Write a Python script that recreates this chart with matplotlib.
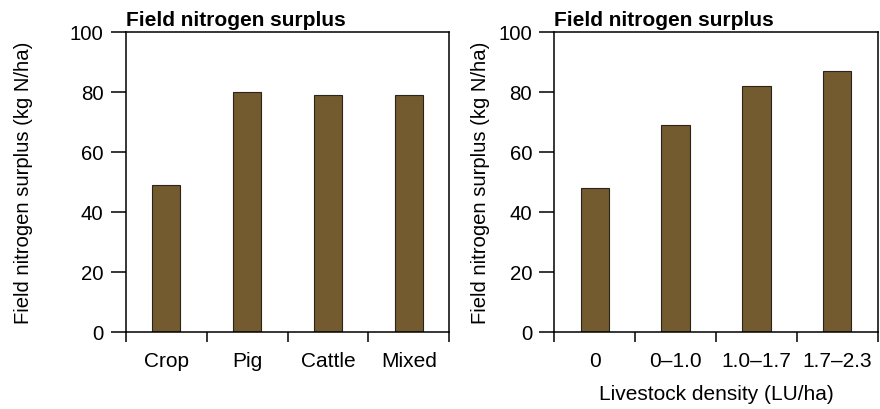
import matplotlib
matplotlib.use("Agg")
import matplotlib.pyplot as plt
import numpy as np

plt.rcParams['font.family'] = ['Liberation Sans', 'DejaVu Sans']

farm_types = ["Crop", "Pig", "Cattle", "Mixed"]
farm_values = [49, 80, 79, 79]
density_classes = ["0", "0\u20131.0", "1.0\u20131.7", "1.7\u20132.3"]
density_values = [48, 69, 82, 87]
yticks = [0, 20, 40, 60, 80, 100]

title = "Field nitrogen surplus"
ylabel = "Field nitrogen surplus (kg N/ha)"
xlabel_right = "Livestock density (LU/ha)"

bar_color = "#735a2f"
fig = plt.figure(figsize=(8.8, 4.1), dpi=100)

H = 410.0
W = 880.0
def add_axes(x0, x1, y0, y1):
    return fig.add_axes([x0 / W, 1 - y1 / H, (x1 - x0) / W, (y1 - y0) / H])

ax1 = add_axes(125.7, 449.3, 33, 333)
ax2 = add_axes(554.3, 877.7, 33, 333)

def style(ax, cats, vals, ylab_x):
    x = np.arange(len(cats))
    ax.bar(x, vals, width=0.35, color=bar_color, edgecolor="#2b2418", linewidth=0.8)
    ax.set_xlim(-0.5, len(cats) - 0.5)
    ax.set_ylim(0, 100)
    ax.set_yticks(yticks)
    ax.set_yticklabels([str(v) for v in yticks], fontsize=14.7)
    ax.set_xticks(np.arange(len(cats) + 1) - 0.5)
    ax.set_xticklabels([])
    ax.set_xticks(x, minor=True)
    ax.set_xticklabels(cats, minor=True, fontsize=15)
    ax.tick_params(axis='x', which='major', length=7, width=1.1, direction='out')
    ax.tick_params(axis='x', which='minor', length=0, pad=14)
    ax.tick_params(axis='y', length=11, width=1.1, direction='out', pad=5)
    for s in ax.spines.values():
        s.set_linewidth(1.1)
    ax.set_title(title, loc='left', fontsize=15, fontweight='bold', pad=5)
    ax.set_ylabel(ylabel, fontsize=14.6)
    ax.yaxis.set_label_coords(ylab_x, 0.5)

style(ax1, farm_types, farm_values, -0.286)
style(ax2, density_classes, density_values, -0.199)
ax2.set_xlabel(xlabel_right, fontsize=15, labelpad=10)

fig.savefig("out.png", dpi=100)
